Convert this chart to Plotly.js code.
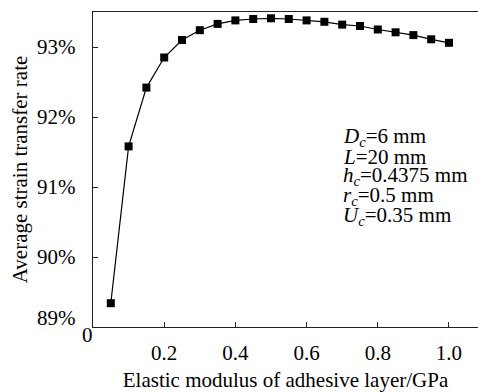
<!DOCTYPE html>
<html>
<head>
<meta charset="utf-8">
<script src="https://cdn.plot.ly/plotly-3.0.1.min.js"></script>
<style>html,body{margin:0;padding:0;background:#fff;}#chart{width:478px;height:392px;}</style>
</head>
<body>
<div id="chart"></div>
<script>
const modulusGPa = [0.05,0.10,0.15,0.20,0.25,0.30,0.35,0.40,0.45,0.50,0.55,0.60,0.65,0.70,0.75,0.80,0.85,0.90,0.95,1.00];
const transferRate = [89.34,91.58,92.42,92.85,93.10,93.24,93.33,93.38,93.40,93.41,93.40,93.38,93.36,93.32,93.30,93.25,93.21,93.17,93.11,93.06];
const xTickVals = [0.2,0.4,0.6,0.8,1.0];
const xTickText = ['0.2','0.4','0.6','0.8','1.0'];
const yTickVals = [89,90,91,92,93];
const yTickText = ['89%','90%','91%','92%','93%'];
const paramLines = [
  '<i>D</i><sub><i>c</i></sub>=6 mm',
  '<i>L</i>=20 mm',
  '<i>h</i><sub><i>c</i></sub>=0.4375 mm',
  '<i>r</i><sub><i>c</i></sub>=0.5 mm',
  '<i>U</i><sub><i>c</i></sub>=0.35 mm'
];
const FONT = 'Times New Roman';
const FS = 21;
const annotations = [];
paramLines.forEach((t,i)=>{
  annotations.push({xref:'paper',yref:'paper',x:0.645,y:(315-(125+i*19.7))/315,
    xanchor:'left',yanchor:'middle',showarrow:false,text:t,
    font:{family:FONT,size:FS,color:'#000'}});
});
annotations.push({xref:'paper',yref:'y',x:0,y:yTickVals[0],xanchor:'right',yanchor:'middle',
  xshift:-15,yshift:9,showarrow:false,text:yTickText[0],font:{family:FONT,size:FS,color:'#000'}});
annotations.push({xref:'paper',yref:'paper',x:0,y:0,xanchor:'right',yanchor:'top',
  xshift:2,yshift:6,showarrow:false,text:'0',font:{family:FONT,size:FS,color:'#000'}});
const trace = {
  x: modulusGPa, y: transferRate, type:'scatter', mode:'lines+markers',
  line:{color:'#000',width:1.2},
  marker:{symbol:'square',size:8,color:'#000'}
};
const layout = {
  width:478,height:392,
  margin:{l:93,r:0,t:12,b:65},
  paper_bgcolor:'#fff',plot_bgcolor:'#fff',
  showlegend:false,
  font:{family:FONT,size:FS,color:'#000'},
  xaxis:{range:[0,1.0815],tickvals:xTickVals,ticktext:xTickText,ticks:'inside',ticklen:5,tickcolor:'#222',
    showline:true,linecolor:'#222',linewidth:1.3,mirror:true,showgrid:false,zeroline:false,
    ticklabelstandoff:6,tickfont:{family:FONT,size:FS},
    title:{text:'Elastic modulus of adhesive layer/GPa',font:{family:FONT,size:FS},standoff:12}},
  yaxis:{range:[89,93.5],tickvals:yTickVals,ticktext:['',yTickText[1],yTickText[2],yTickText[3],yTickText[4]],
    ticks:'inside',ticklen:5,tickcolor:'#222',
    showline:true,linecolor:'#222',linewidth:1.3,mirror:false,showgrid:false,zeroline:false,
    ticklabelstandoff:12,tickfont:{family:FONT,size:FS},
    title:{text:'Average strain transfer rate',font:{family:FONT,size:FS},standoff:3}},
  annotations:annotations
};
Plotly.newPlot('chart',[trace],layout,{displayModeBar:false,staticPlot:true});
</script>
</body>
</html>
